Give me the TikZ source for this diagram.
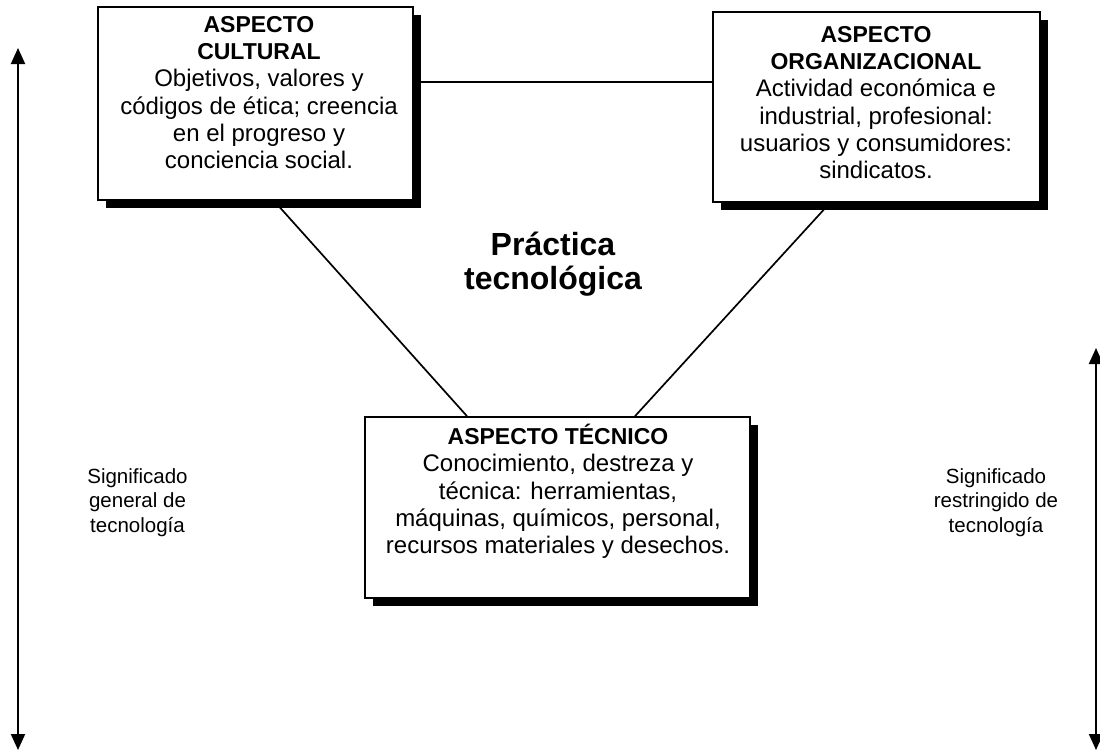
\documentclass[tikz,border=0pt]{standalone}
\usepackage{fontspec}
\setmainfont{Liberation Sans}
\usetikzlibrary{shadows,arrows.meta}
\newcommand{\hd}[1]{{\fontsize{23}{27.5}\selectfont\bfseries #1}}
\begin{document}
\begin{tikzpicture}[x=1pt,y=-1pt,
  aspbox/.style={draw=black,line width=1.7pt,fill=white,inner sep=0pt,
    drop shadow={shadow xshift=8pt,shadow yshift=-8pt,fill=black,opacity=1}},
  boxtext/.style={anchor=north,inner sep=0pt,align=center,
    font=\fontsize{24}{27.3}\selectfont},
  sidetext/.style={anchor=north,inner sep=0pt,align=center,
    font=\fontsize{20.5}{24.5}\selectfont},
  link/.style={line width=1.7pt},
  span/.style={line width=2pt,{Triangle[width=14pt,length=16pt]}-{Triangle[width=14pt,length=16pt]}}]
\useasboundingbox (0,0) rectangle (1100,753);

% boxes
\node[aspbox,minimum width=315pt,minimum height=193pt] (cult) at (255.5,103.5) {};
\node[aspbox,minimum width=327pt,minimum height=190pt] (org) at (876.5,107) {};
\node[aspbox,minimum width=385pt,minimum height=181pt] (tec) at (557.5,507.5) {};

% connectors
\draw[link] (cult.east |- 0,82) -- (org.west |- 0,82);
\draw[link] (cult.south -| 274,0) -- (tec.north -| 467,0);
\draw[link] (org.south -| 830,0) -- (tec.north -| 635,0);

% box texts
\node[boxtext] (cultt) at (259,12.9) {\strut\hd{ASPECTO}\\ \hd{CULTURAL}\\ Objetivos, valores y\\ códigos de ética; creencia\\ en el progreso y\\ conciencia social.};
\node[boxtext] (orgt) at (876,22.9) {\strut\hd{ASPECTO}\\ \hd{ORGANIZACIONAL}\\ Actividad económica e\\ industrial, profesional:\\ usuarios y consumidores:\\ sindicatos.};
\node[boxtext] (tect) at (558,423.9) {\strut\hd{ASPECTO TÉCNICO}\\ Conocimiento, destreza y\\ técnica: herramientas,\\ máquinas, químicos, personal,\\ recursos materiales y desechos.};

% centre title
\node[anchor=north,inner sep=0pt,align=center,font=\fontsize{32}{33}\selectfont\bfseries] (prac) at (553,231.9) {\strut Práctica\\ tecnológica};

% side arrows
\coordinate (ltop) at (18,48);
\coordinate (lbot) at (18,750);
\coordinate (rtop) at (1096,348);
\coordinate (rbot) at (1096,750);
\draw[span] (ltop) -- (lbot);
\draw[span] (rtop) -- (rbot);

% side labels
\node[sidetext] (gen) at (137.5,465.85) {\strut Significado\\ general de\\ tecnología};
\node[sidetext] (res) at (996,465.85) {\strut Significado\\ restringido de\\ tecnología};
\end{tikzpicture}
\end{document}
